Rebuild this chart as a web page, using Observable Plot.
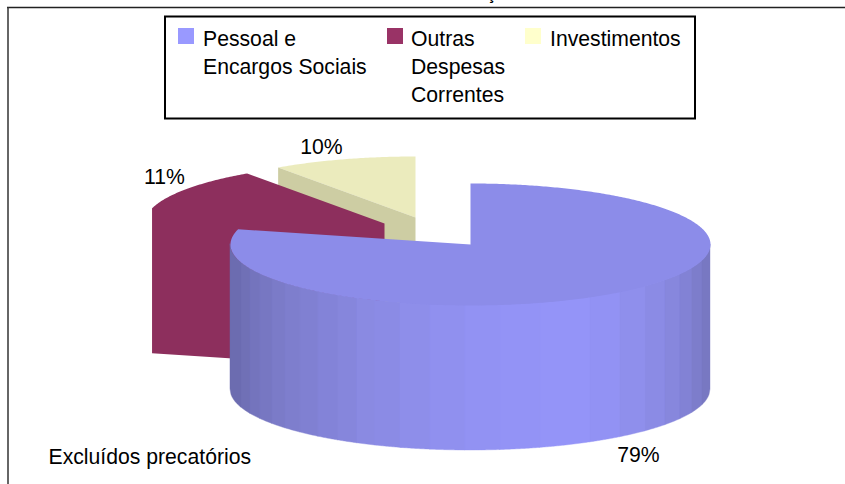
<!DOCTYPE html>
<html>
<head>
<meta charset="utf-8">
<script src="https://cdn.jsdelivr.net/npm/d3@7"></script>
<script src="https://cdn.jsdelivr.net/npm/@observablehq/plot@0.6"></script>
<style>html,body{margin:0;padding:0;background:#fff}svg{display:block}</style>
</head>
<body>
<div id="chart"></div>
<script>
// Data
const sliceNames = ["Pessoal e Encargos Sociais", "Outras Despesas Correntes", "Investimentos"];
const sliceValues = [79.0, 11.3, 9.7];
const legendLines = [["Pessoal e", "Encargos Sociais"], ["Outras", "Despesas", "Correntes"], ["Investimentos"]];
const legendColors = ["#9999ff", "#993366", "#ffffcc"];
const topColors = ["#8c8ce9", "#8d2f5d", "#ebebbd"];
const faceColors = ["#8c8ce9", "#8d2f5d", "#cdcda3"];
const noteText = "Excluídos precatórios";
const clippedTitle = "ç";
const wallEdges = [230,241,250,260,272,285,300,318,338,357,375,400,430,465,500,540,590,620,645,665,680,692,702,710];
const wallColors = ["#6c6cb0","#7070b6","#7474bd","#7777c2","#7b7bc8","#7e7ecd","#8080d2","#8383d8","#8686dc","#8a8ae2","#8b8be5","#8e8eea","#9090ef","#9292f3","#9393f6","#9494f8","#9292f4","#8f8fec","#8b8be5","#8787dd","#8282d5","#7d7dcb","#7878c2"];

// Layout
const W = 845, H = 484;
const rx = 240, ry = 61, depth = 145;
const centers = [[470, 244], [384, 223], [415, 217]];
const swatchX = [178, 387, 525], textX = [202.5, 410.5, 549.5];
const labelPos = [[638, 461], [164, 183], [321, 153]];

const font = "'Liberation Sans', Arial, sans-serif";
const pt = ([cx, cy], a) => ({x: cx + rx * Math.sin(a), y: cy - ry * Math.cos(a)});
let acc = 0;
const slices = sliceValues.map((v, i) => {
  const a0 = acc / 100 * 2 * Math.PI; acc += v;
  const a1 = acc / 100 * 2 * Math.PI;
  const c = centers[i];
  const arc = [];
  const n = Math.ceil((a1 - a0) / 0.01);
  for (let k = 0; k <= n; k++) arc.push(pt(c, a0 + (a1 - a0) * k / n));
  const top = [{x: c[0], y: c[1]}, ...arc];
  return {a0, a1, c, arc, top};
});
// radial face of a slice: edge at angle a, extruded downwards
const radialFace = (s, a) => {
  const p = pt(s.c, a);
  return [{x: p.x, y: p.y}, {x: s.c[0], y: s.c[1]}, {x: s.c[0], y: s.c[1] + depth}, {x: p.x, y: p.y + depth}];
};
// silhouette of a slice whose top and radial face share one colour
const silhouette = (s) => {
  const p = pt(s.c, s.a0);
  return [...s.arc, {x: s.c[0], y: s.c[1]}, {x: s.c[0], y: s.c[1] + depth}, {x: p.x, y: p.y + depth}];
};
// front wall of first slice, in vertical colour strips
const [cx0, cy0] = centers[0];
const wall = [];
wallColors.forEach((color, i) => {
  for (let x = wallEdges[i]; ; x = Math.min(x + 1, wallEdges[i + 1])) {
    const t = Math.max(0, 1 - ((x - cx0) / rx) ** 2);
    const y = cy0 + ry * Math.sqrt(t);
    wall.push({x, y1: y, y2: y + depth, color});
    if (x >= wallEdges[i + 1]) break;
  }
});
const poly = (pts, fill) => Plot.line(pts, {x: "x", y: "y", fill, stroke: "none", curve: "linear"});
const label = (text, x, y, opts = {}) => Plot.text([text], {
  x: () => x, y: () => y, text: d => d, textAnchor: "start", lineAnchor: "bottom",
  fontSize: 21.2, fill: "#000", fontFamily: font, ...opts
});

const legendMarks = [];
legendLines.forEach((lines, i) => {
  legendMarks.push(Plot.rect([i], {
    x1: () => swatchX[i], x2: () => swatchX[i] + 16, y1: () => 28, y2: () => 44, fill: legendColors[i]
  }));
  lines.forEach((t, j) => legendMarks.push(label(t, textX[i], 45 + j * 28)));
});

const chart = Plot.plot({
  width: W, height: H, margin: 0,
  x: {domain: [0, W], range: [0, W], axis: null},
  y: {domain: [0, H], range: [0, H], axis: null},
  style: {background: "#fff"},
  marks: [
    // frame
    Plot.ruleY([7], {x1: () => 7, x2: () => W, stroke: "#222", strokeWidth: 1.6}),
    Plot.ruleX([7.5], {y1: () => 7, y2: () => H, stroke: "#333", strokeWidth: 1.5}),
    label(clippedTitle, 491, -1, {textAnchor: "middle", fontSize: 17, fontWeight: "bold", lineAnchor: "bottom"}),
    // legend box
    Plot.rect([0], {x1: () => 165, x2: () => 695, y1: () => 16.5, y2: () => 118.5, fill: "#fff", stroke: "#000", strokeWidth: 2}),
    ...legendMarks,
    // slice 3
    poly(slices[2].top, topColors[2]),
    poly(radialFace(slices[2], slices[2].a0), faceColors[2]),
    // slice 2
    poly(silhouette(slices[1]), topColors[1]),
    // slice 1
    Plot.areaY(wall, {x: "x", y1: "y1", y2: "y2", fill: "color", z: "color", stroke: "color", strokeWidth: 0.4, curve: "linear"}),
    poly(slices[0].top, topColors[0]),
    // percent labels
    ...sliceValues.map((v, i) => label(`${Math.round(v)}%`, labelPos[i][0], labelPos[i][1], {textAnchor: "middle"})),
    label(noteText, 48, 463)
  ]
});
document.getElementById("chart").append(chart);
</script>
</body>
</html>
